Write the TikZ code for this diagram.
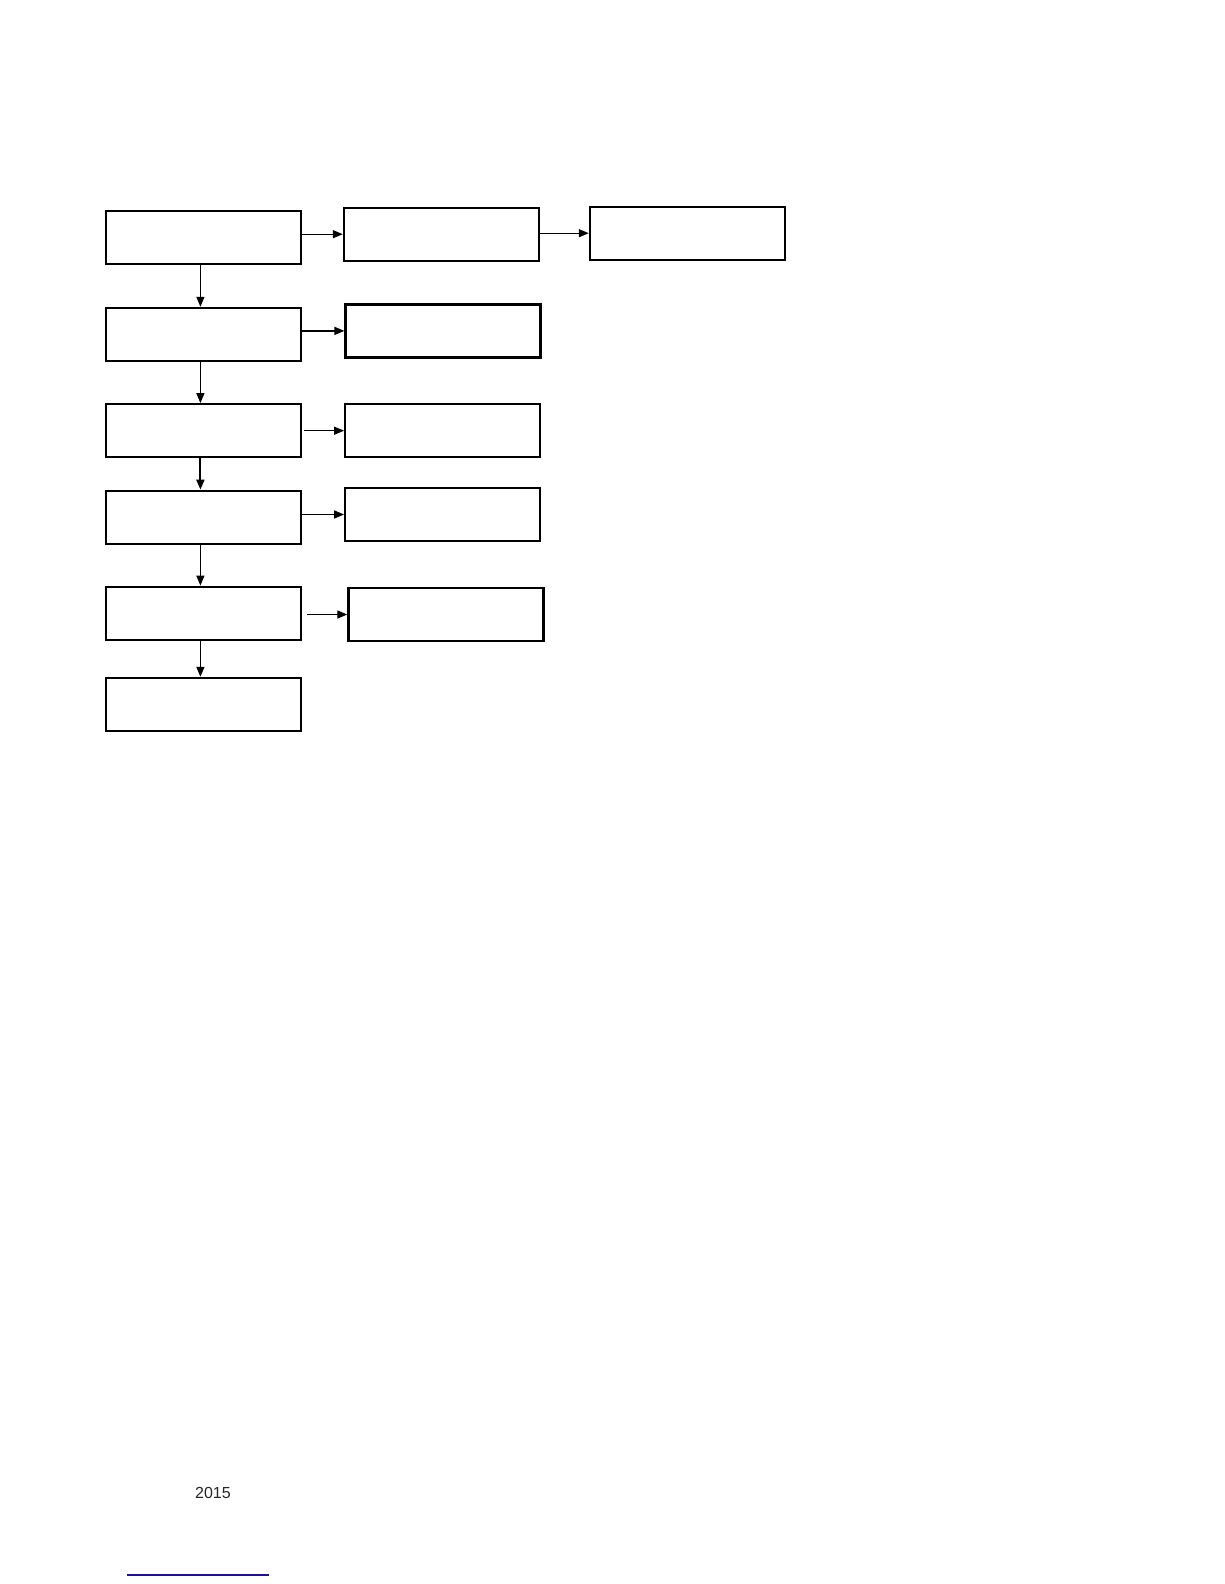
\documentclass[tikz,border=0pt]{standalone}
\usepackage{fontspec}
\setmainfont{Liberation Sans}
\usetikzlibrary{arrows.meta}
\begin{document}
\begin{tikzpicture}[x=1pt,y=-1pt,
  box/.style={draw=black, line width=2.2pt, minimum width=195pt, minimum height=53pt, inner sep=0pt, fill=white},
  thickbox/.style={box, line width=3pt},
  arr/.style={line width=1.3pt, -{Triangle[length=10pt,width=8pt]}},
  thickarr/.style={arr, line width=2pt}
]
\useasboundingbox (0,0) rectangle (1224,1584);
\fill[white] (0,0) rectangle (1224,1584);
% left column
\node[box] (a1) at (203.4,237.2) {};
\node[box] (a2) at (203.4,334.4) {};
\node[box] (a3) at (203.4,430.7) {};
\node[box] (a4) at (203.4,517.2) {};
\node[box] (a5) at (203.4,613.2) {};
\node[box] (a6) at (203.4,704.4) {};
% right column
\node[box] (b1) at (441.4,234.2) {};
\node[thickbox] (b2) at (443.4,330.9) {};
\node[box] (b3) at (442.7,430.7) {};
\node[box] (b4) at (442.7,514.5) {};
\node[box] (b5) at (445.9,614.5) {};
\node[box] (c1) at (687.4,233.2) {};
% vertical arrows
\draw[arr] ([xshift=-3pt]a1.south) -- ([xshift=-3pt]a2.north);
\draw[arr] ([xshift=-3pt]a2.south) -- ([xshift=-3pt]a3.north);
\draw[thickarr] ([xshift=-3pt]a3.south) -- ([xshift=-3pt]a4.north);
\draw[arr] ([xshift=-3pt]a4.south) -- ([xshift=-3pt]a5.north);
\draw[arr] ([xshift=-3pt]a5.south) -- ([xshift=-3pt]a6.north);
% horizontal arrows
\draw[arr] (a1.east |- b1.west) -- (b1.west);
\draw[arr] (b1.east |- c1.west) -- (c1.west);
\draw[arr] (a2.east |- b2.west) -- (b2.west);
\draw[arr, shorten <=2pt] (a3.east |- b3.west) -- (b3.west);
\draw[arr] (a4.east |- b4.west) -- (b4.west);
\draw[arr, shorten <=5pt] (a5.east |- b5.west) -- (b5.west);
% footer
\node[font=\fontsize{16}{19}\selectfont, text=black!85, inner sep=0pt] (yr) at (213,1493) {2015};
\coordinate (l1) at (127,1575);
\coordinate (l2) at (269,1575);
\draw[draw={rgb,255:red,20;green,20;blue,150}, line width=1.5pt] (l1) -- (l2);
\end{tikzpicture}
\end{document}
